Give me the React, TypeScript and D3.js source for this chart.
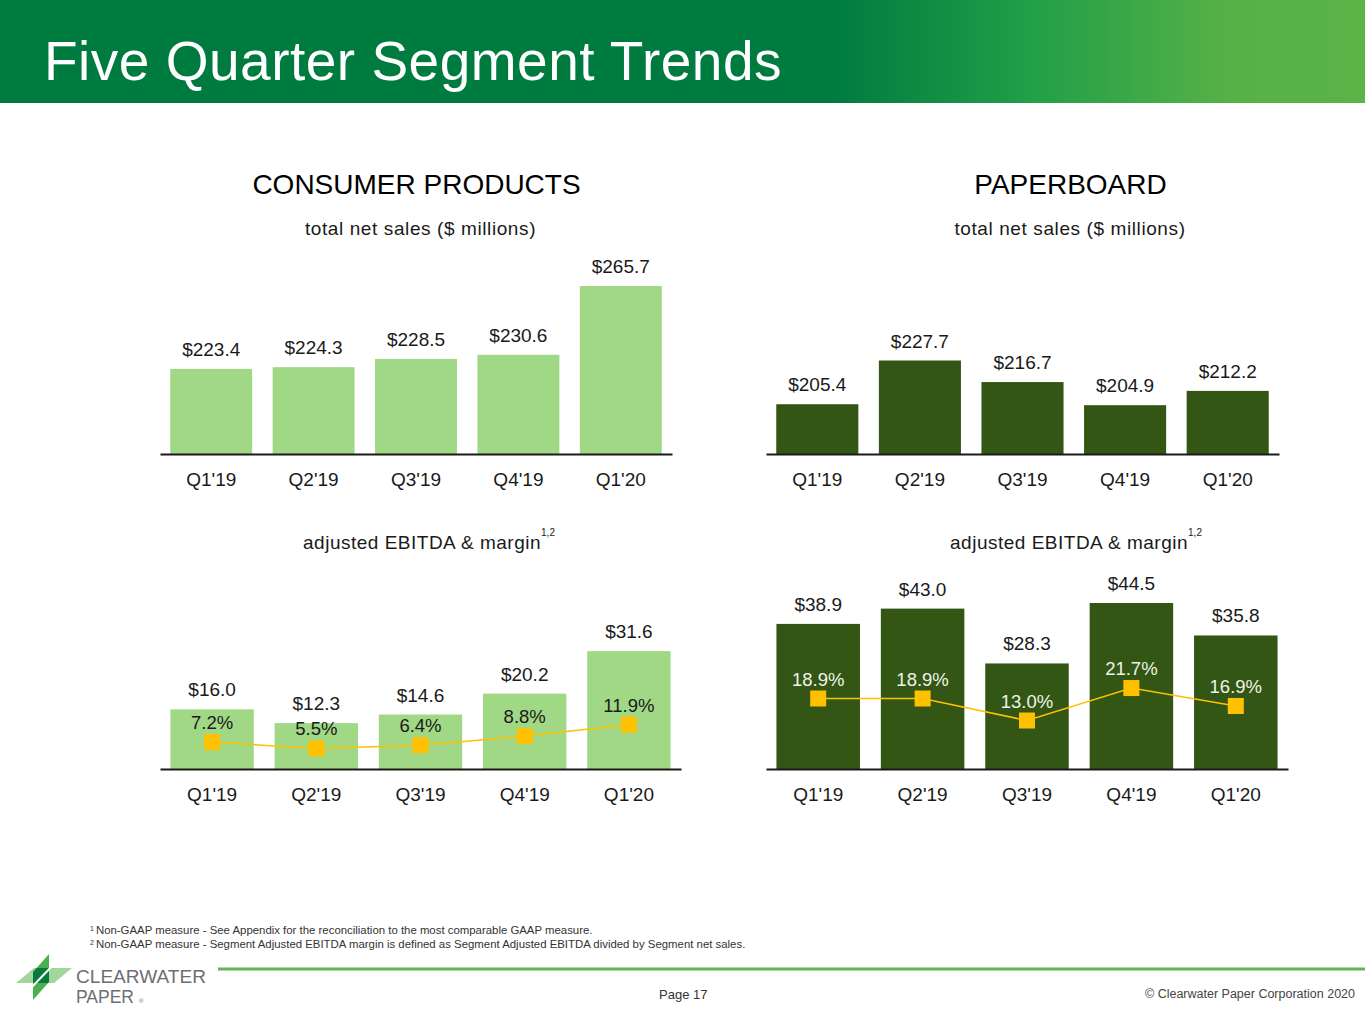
import { useEffect, useRef } from "react";
import * as d3 from "d3";

const QUARTERS = ["Q1'19", "Q2'19", "Q3'19", "Q4'19", "Q1'20"];
const CONSUMER_SALES = [223.4, 224.3, 228.5, 230.6, 265.7];
const PAPERBOARD_SALES = [205.4, 227.7, 216.7, 204.9, 212.2];
const CONSUMER_EBITDA = [16.0, 12.3, 14.6, 20.2, 31.6];
const CONSUMER_MARGIN = [7.2, 5.5, 6.4, 8.8, 11.9];
const PAPERBOARD_EBITDA = [38.9, 43.0, 28.3, 44.5, 35.8];
const PAPERBOARD_MARGIN = [18.9, 18.9, 13.0, 21.7, 16.9];

const SALES_DOMAIN: [number, number] = [180, 280];
const EBITDA_DOMAIN: [number, number] = [0, 50];

const FOOTNOTES = [
  "Non-GAAP measure - See Appendix for the reconciliation to the most comparable GAAP measure.",
  "Non-GAAP measure - Segment Adjusted EBITDA margin is defined as Segment Adjusted EBITDA divided by Segment net sales.",
];

const WIDTH = 1365;
const HEIGHT = 1024;
const FONT = "'Liberation Sans', Arial, Helvetica, sans-serif";

const LIGHT_GREEN = "#a0d886";
const DARK_GREEN = "#335614";
const GOLD = "#ffc000";

type Panel = {
  left: number;
  right: number;
  baseline: number;
  top: number;
  domain: [number, number];
  values: number[];
  margins?: number[];
  fill: string;
  pctFill?: string;
};

const drawPanel = (
  svg: d3.Selection<SVGSVGElement, unknown, null, undefined>,
  p: Panel
) => {
  const x = d3
    .scaleBand<string>()
    .domain(QUARTERS)
    .range([p.left, p.right])
    .paddingInner(0.2)
    .paddingOuter(0.1);
  const y = d3.scaleLinear().domain(p.domain).range([p.baseline, p.top]);
  const cx = (i: number) => x(QUARTERS[i])! + x.bandwidth() / 2;

  const g = svg.append("g");

  g.selectAll("rect")
    .data(p.values)
    .join("rect")
    .attr("x", (_, i) => x(QUARTERS[i])!)
    .attr("y", (d) => y(d))
    .attr("width", x.bandwidth())
    .attr("height", (d) => p.baseline - y(d))
    .attr("fill", p.fill);

  g.selectAll("text.val")
    .data(p.values)
    .join("text")
    .attr("class", "val")
    .attr("x", (_, i) => cx(i))
    .attr("y", (d) => y(d) - 13)
    .attr("text-anchor", "middle")
    .attr("font-size", 19)
    .attr("fill", "#1a1a1a")
    .text((d) => `$${d.toFixed(1)}`);

  if (p.margins) {
    const line = d3
      .line<number>()
      .x((_, i) => cx(i))
      .y((d) => y(d));
    g.append("path")
      .datum(p.margins)
      .attr("d", line)
      .attr("fill", "none")
      .attr("stroke", GOLD)
      .attr("stroke-width", 1.5);

    const s = 16;
    g.selectAll("rect.marker")
      .data(p.margins)
      .join("rect")
      .attr("class", "marker")
      .attr("x", (_, i) => cx(i) - s / 2)
      .attr("y", (d) => y(d) - s / 2)
      .attr("width", s)
      .attr("height", s)
      .attr("fill", GOLD);

    g.selectAll("text.pct")
      .data(p.margins)
      .join("text")
      .attr("class", "pct")
      .attr("x", (_, i) => cx(i))
      .attr("y", (d) => y(d) - 13)
      .attr("text-anchor", "middle")
      .attr("font-size", 18.5)
      .attr("fill", p.pctFill ?? "#1a1a1a")
      .text((d) => `${d.toFixed(1)}%`);
  }

  g.append("g")
    .attr("transform", `translate(0, ${p.baseline})`)
    .call(d3.axisBottom(x).tickSize(0).tickPadding(19))
    .call((a) => a.select(".domain").attr("stroke", "#1a1a1a").attr("stroke-width", 2))
    .call((a) =>
      a
        .selectAll("text")
        .attr("font-size", 19)
        .attr("font-family", FONT)
        .attr("fill", "#1a1a1a")
    );
};

const App = () => {
  const svgRef = useRef<SVGSVGElement | null>(null);

  useEffect(() => {
    if (!svgRef.current) return;
    const svg = d3.select(svgRef.current);
    svg.selectAll("*").remove();

    // Header band
    const defs = svg.append("defs");
    const grad = defs
      .append("linearGradient")
      .attr("id", "hdr")
      .attr("x1", "0")
      .attr("x2", "1")
      .attr("y1", "0")
      .attr("y2", "0");
    grad.append("stop").attr("offset", "0.61").attr("stop-color", "#007b40");
    grad.append("stop").attr("offset", "0.76").attr("stop-color", "#23a048");
    grad.append("stop").attr("offset", "0.9").attr("stop-color", "#56b147");
    grad.append("stop").attr("offset", "1").attr("stop-color", "#5cb447");
    svg.append("rect").attr("width", WIDTH).attr("height", 103).attr("fill", "url(#hdr)");
    svg
      .append("text")
      .attr("x", 44)
      .attr("y", 80)
      .attr("font-size", 55)
      .attr("letter-spacing", 0.5)
      .attr("fill", "#fff")
      .text("Five Quarter Segment Trends");

    // Section headings
    const headings = [
      { cx: 416.5, title: "CONSUMER PRODUCTS", sub: 420.5, ebitda: 429 },
      { cx: 1070.5, title: "PAPERBOARD", sub: 1070, ebitda: 1076 },
    ];
    headings.forEach((h) => {
      svg
        .append("text")
        .attr("x", h.cx)
        .attr("y", 194)
        .attr("text-anchor", "middle")
        .attr("font-size", 28)
        .attr("fill", "#000")
        .text(h.title);
      svg
        .append("text")
        .attr("x", h.sub)
        .attr("y", 235)
        .attr("text-anchor", "middle")
        .attr("font-size", 19)
        .attr("letter-spacing", 0.6)
        .attr("fill", "#1a1a1a")
        .text("total net sales ($ millions)");
      const t = svg
        .append("text")
        .attr("x", h.ebitda)
        .attr("y", 549)
        .attr("text-anchor", "middle")
        .attr("font-size", 19)
        .attr("letter-spacing", 0.5)
        .attr("fill", "#1a1a1a");
      t.append("tspan").text("adjusted EBITDA & margin");
      t.append("tspan")
        .attr("dy", -13)
        .attr("font-size", 10)
        .attr("letter-spacing", 0)
        .text("1,2");
    });

    drawPanel(svg, {
      left: 160,
      right: 672,
      baseline: 454,
      top: 258,
      domain: SALES_DOMAIN,
      values: CONSUMER_SALES,
      fill: LIGHT_GREEN,
    });
    drawPanel(svg, {
      left: 766,
      right: 1279,
      baseline: 454,
      top: 258,
      domain: SALES_DOMAIN,
      values: PAPERBOARD_SALES,
      fill: DARK_GREEN,
    });
    drawPanel(svg, {
      left: 160,
      right: 681,
      baseline: 769,
      top: 582.5,
      domain: EBITDA_DOMAIN,
      values: CONSUMER_EBITDA,
      margins: CONSUMER_MARGIN,
      fill: LIGHT_GREEN,
      pctFill: "#1a1a1a",
    });
    drawPanel(svg, {
      left: 766,
      right: 1288,
      baseline: 769,
      top: 582.5,
      domain: EBITDA_DOMAIN,
      values: PAPERBOARD_EBITDA,
      margins: PAPERBOARD_MARGIN,
      fill: DARK_GREEN,
      pctFill: "#eef3e8",
    });

    // Footnotes
    FOOTNOTES.forEach((f, i) => {
      const t = svg
        .append("text")
        .attr("x", 90)
        .attr("y", 934 + i * 14)
        .attr("font-size", 11.4)
        .attr("fill", "#333");
      t.append("tspan").attr("font-size", 7).attr("dy", -3).text(String(i + 1));
      t.append("tspan").attr("dy", 3).attr("dx", 2).text(f);
    });

    // Footer
    svg
      .append("rect")
      .attr("x", 218)
      .attr("y", 967.5)
      .attr("width", WIDTH - 218)
      .attr("height", 3)
      .attr("fill", "#62b657");
    svg
      .append("text")
      .attr("x", 659)
      .attr("y", 999)
      .attr("font-size", 13)
      .attr("fill", "#333")
      .text("Page 17");
    svg
      .append("text")
      .attr("x", 1355)
      .attr("y", 998)
      .attr("text-anchor", "end")
      .attr("font-size", 12.5)
      .attr("fill", "#444")
      .text("\u00a9 Clearwater Paper Corporation 2020");

    // Logo
    const logo = svg.append("g");
    logo
      .append("path")
      .attr("d", "M33,972 L49,954 L49,982 L33,1000 Z")
      .attr("fill", "#4caf50");
    logo
      .append("path")
      .attr("d", "M16,983 L34,968 L72,968 L54,983 Z")
      .attr("fill", "#a3d69b");
    logo
      .append("path")
      .attr("d", "M33,972 L36.5,968 L49,968 L49,982 L48,983 L33,983 Z")
      .attr("fill", "#0a7a3c");
    logo
      .append("line")
      .attr("x1", 30)
      .attr("y1", 989)
      .attr("x2", 55)
      .attr("y2", 963)
      .attr("stroke", "#fff")
      .attr("stroke-width", 2);
    logo
      .append("text")
      .attr("x", 76)
      .attr("y", 983)
      .attr("font-size", 18)
      .attr("textLength", 130)
      .attr("lengthAdjust", "spacingAndGlyphs")
      .attr("fill", "#6d6e71")
      .text("CLEARWATER");
    logo
      .append("text")
      .attr("x", 76)
      .attr("y", 1003)
      .attr("font-size", 18)
      .attr("textLength", 58)
      .attr("lengthAdjust", "spacingAndGlyphs")
      .attr("fill", "#6d6e71")
      .text("PAPER");
    logo
      .append("text")
      .attr("x", 139)
      .attr("y", 1003)
      .attr("font-size", 6)
      .attr("fill", "#6d6e71")
      .text("\u00ae");
  }, []);

  return (
    <svg
      ref={svgRef}
      width={WIDTH}
      height={HEIGHT}
      viewBox={`0 0 ${WIDTH} ${HEIGHT}`}
      style={{ position: "absolute", left: 0, top: 0, background: "#fff", fontFamily: FONT }}
    />
  );
};

export default App;
